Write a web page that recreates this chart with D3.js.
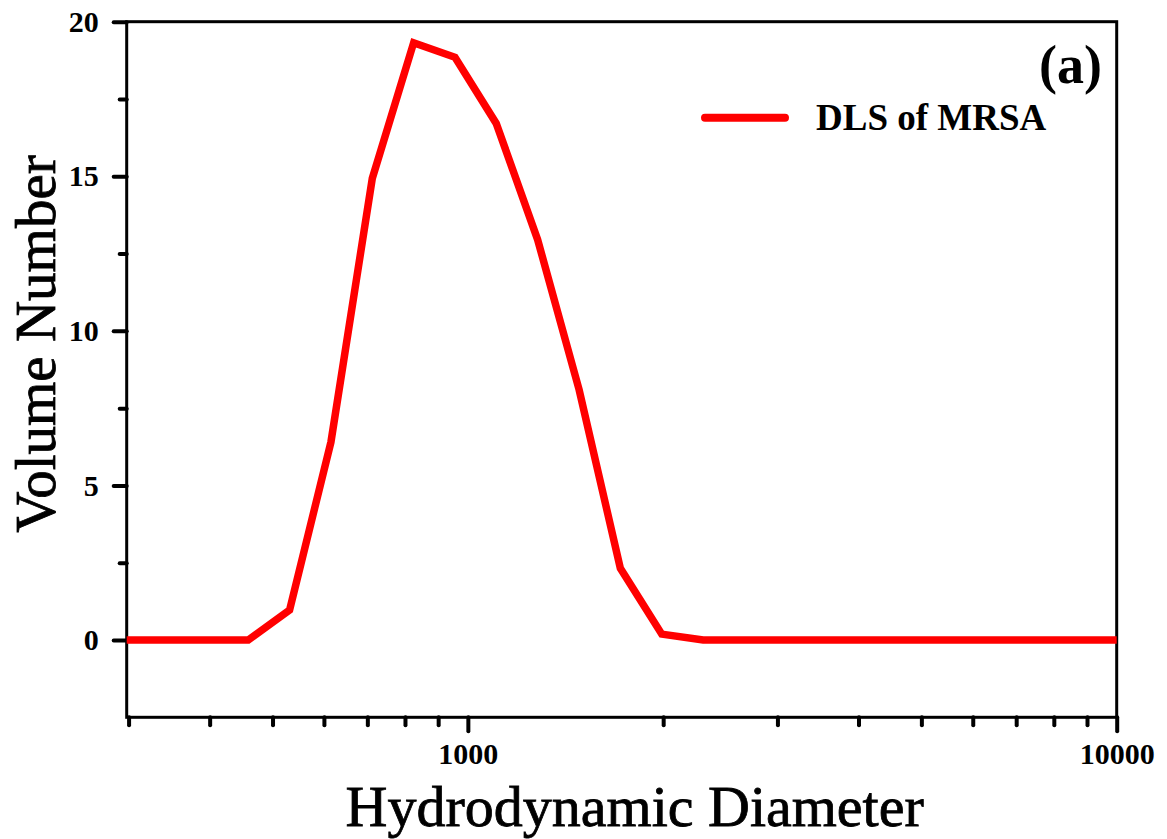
<!DOCTYPE html>
<html>
<head>
<meta charset="utf-8">
<script src="https://cdn.jsdelivr.net/npm/d3@7"></script>
<style>
  html, body { margin: 0; padding: 0; background: #fff; }
  svg { display: block; }
  text { font-family: "Liberation Serif", "Times New Roman", serif; fill: #000; }
</style>
</head>
<body>
<svg id="chart" width="1167" height="839"></svg>
<script>
// Hydrodynamic diameter bins (nm) and volume distribution of MRSA by DLS
const diameters = [298, 342.0, 396.1, 458.7, 531.2, 615.1, 712.4, 825.0, 955.4, 1106, 1281, 1484, 1718, 1990, 2305, 2669, 3091, 3580, 4145, 4801, 5560, 6439, 7456, 8635, 10000];
const volume    = [0, 0, 0, 0, 0.97, 6.4, 14.93, 19.32, 18.85, 16.71, 12.95, 8.1, 2.32, 0.19, 0, 0, 0, 0, 0, 0, 0, 0, 0, 0, 0];

const seriesName = "DLS of MRSA";
const panelLabel = "(a)";
const xTitle = "Hydrodynamic Diameter";
const yTitle = "Volume Number";
const xMajorTicks = [1000, 10000];
const xMinorTicks = [300, 400, 500, 600, 700, 800, 900, 2000, 3000, 4000, 5000, 6000, 7000, 8000, 9000];
const yMajorTicks = [0, 5, 10, 15, 20];
const yMinorTicks = [2.5, 7.5, 12.5, 17.5];

const svg = d3.select("#chart");
const plot = { left: 126.7, right: 1116.7, top: 21.7, bottom: 717.3 };

const x = d3.scaleLog().domain([298, 10000]).range([plot.left, plot.right]);
const y = d3.scaleLinear().domain([-2.5, 20]).range([plot.bottom, plot.top]);

// plot frame
svg.append("rect")
  .attr("x", plot.left).attr("y", plot.top)
  .attr("width", plot.right - plot.left).attr("height", plot.bottom - plot.top)
  .attr("fill", "none").attr("stroke", "#000").attr("stroke-width", 3);

// bottom axis
const gx = svg.append("g").attr("transform", `translate(0,${plot.bottom})`);
gx.call(d3.axisBottom(x).tickValues(xMajorTicks).tickSize(14).tickPadding(24).tickFormat(d3.format("d")));
gx.append("g").call(d3.axisBottom(x).tickValues(xMinorTicks).tickSize(8).tickFormat(""));

// left axis
const gy = svg.append("g").attr("transform", `translate(${plot.left},0)`);
gy.call(d3.axisLeft(y).tickValues(yMajorTicks).tickSize(13).tickPadding(15).tickFormat(d3.format("d")));
gy.append("g").call(d3.axisLeft(y).tickValues(yMinorTicks).tickSize(7).tickFormat(""));

svg.selectAll(".domain").remove();
svg.selectAll(".tick line")
  .attr("stroke", "#000").attr("stroke-width", 4).attr("stroke-linecap", "round");
svg.selectAll(".tick text")
  .style("font-family", "'Liberation Serif', 'Times New Roman', serif")
  .style("font-weight", "bold").style("font-size", "30px").attr("fill", "#000");
gx.selectAll(".tick text").attr("dy", "0.3em");

// distribution curve
const line = d3.line().x((d, i) => x(diameters[i])).y(d => y(d));
svg.append("path")
  .datum(volume)
  .attr("d", line)
  .attr("fill", "none")
  .attr("stroke", "#ff0000")
  .attr("stroke-width", 7.5)
  .attr("stroke-linejoin", "miter");

// legend
svg.append("line")
  .attr("x1", 705).attr("x2", 785).attr("y1", 117.7).attr("y2", 117.7)
  .attr("stroke", "#ff0000").attr("stroke-width", 8).attr("stroke-linecap", "round");
svg.append("text")
  .attr("x", 816).attr("y", 129.5)
  .style("font-weight", "bold").style("font-size", "37px")
  .text(seriesName);

// panel label
svg.append("text")
  .attr("x", 1102).attr("y", 83).attr("text-anchor", "end")
  .style("font-weight", "bold").style("font-size", "54px")
  .text(panelLabel);

// axis titles (slightly heavier than plain regular weight)
svg.append("text")
  .attr("x", 634.7).attr("y", 826).attr("text-anchor", "middle")
  .style("font-size", "58px")
  .attr("stroke", "#000").attr("stroke-width", 0.8)
  .text(xTitle);
svg.append("text")
  .attr("transform", "translate(55,344) rotate(-90)")
  .attr("text-anchor", "middle")
  .style("font-size", "57px")
  .attr("stroke", "#000").attr("stroke-width", 0.8)
  .text(yTitle);
</script>
</body>
</html>
